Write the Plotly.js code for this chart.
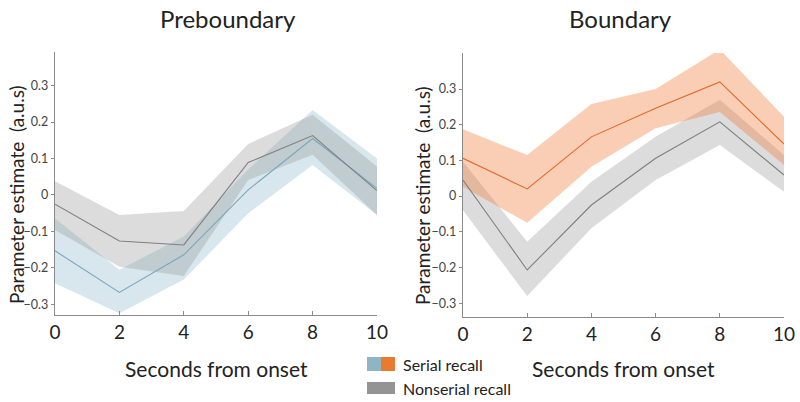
<!DOCTYPE html>
<html>
<head>
<meta charset="utf-8">
<script src="https://cdn.plot.ly/plotly-3.0.1.min.js"></script>
<style>html,body{margin:0;padding:0;background:#fff;}#chart{width:800px;height:402px;}</style>
</head>
<body>
<div id="chart"></div>
<script>
// ---- data ----
const seconds = [0, 2, 4, 6, 8, 10];
const yTicks = [-0.3, -0.2, -0.1, 0, 0.1, 0.2, 0.3];
const xTicks = [0, 2, 4, 6, 8, 10];

// Preboundary
const preSerial      = [-0.153, -0.267, -0.164, 0.014, 0.155, 0.018];
const preSerialUp    = [-0.064, -0.205, -0.114, 0.070, 0.233, 0.100];
const preSerialLo    = [-0.242, -0.324, -0.232, -0.050, 0.082, -0.055];
const preNonserial   = [-0.025, -0.126, -0.137, 0.089, 0.163, 0.012];
const preNonserialUp = [0.038, -0.055, -0.044, 0.140, 0.220, 0.078];
const preNonserialLo = [-0.096, -0.197, -0.222, 0.041, 0.110, -0.055];

// Boundary
const bndSerial      = [0.106, 0.020, 0.166, 0.246, 0.320, 0.146];
const bndSerialUp    = [0.187, 0.115, 0.258, 0.300, 0.411, 0.222];
const bndSerialLo    = [0.026, -0.075, 0.082, 0.190, 0.236, 0.087];
const bndNonserial   = [0.045, -0.207, -0.025, 0.106, 0.208, 0.059];
const bndNonserialUp = [0.096, -0.128, 0.040, 0.166, 0.270, 0.115];
const bndNonserialLo = [-0.040, -0.280, -0.090, 0.045, 0.143, 0.012];

// ---- styles ----
const blueLine = '#7aa7ba', blueFill = 'rgba(110,170,190,0.28)';
const grayLine = '#7f7f7f', grayFill = 'rgba(150,150,150,0.33)';
const orangeLine = '#e2692a', orangeFill = 'rgba(238,125,60,0.38)';
const FONT = 'Lato, "Open Sans", sans-serif';

function band(xa, ya, up, lo, fill) {
  return [
    {x: seconds, y: up, xaxis: xa, yaxis: ya, mode: 'lines', line: {width: 0, color: fill}, hoverinfo: 'skip', showlegend: false},
    {x: seconds, y: lo, xaxis: xa, yaxis: ya, mode: 'lines', line: {width: 0, color: fill}, fill: 'tonexty', fillcolor: fill, hoverinfo: 'skip', showlegend: false}
  ];
}
function line(xa, ya, y, color) {
  return {x: seconds, y: y, xaxis: xa, yaxis: ya, mode: 'lines', line: {width: 1.1, color: color}, showlegend: false};
}

const data = [
  ...band('x', 'y', preSerialUp, preSerialLo, blueFill),
  ...band('x', 'y', preNonserialUp, preNonserialLo, grayFill),
  line('x', 'y', preSerial, blueLine),
  line('x', 'y', preNonserial, grayLine),
  ...band('x2', 'y2', bndNonserialUp, bndNonserialLo, grayFill),
  ...band('x2', 'y2', bndSerialUp, bndSerialLo, orangeFill),
  line('x2', 'y2', bndNonserial, grayLine),
  line('x2', 'y2', bndSerial, orangeLine)
];

const xBase = {
  range: [0, 10], tickvals: xTicks, ticks: 'inside', ticklen: 4, tickcolor: '#8a8a8a',
  showline: true, linecolor: '#8a8a8a', linewidth: 1.3, showgrid: false, zeroline: false,
  tickfont: {family: FONT, size: 19, color: '#222'}, fixedrange: true
};
const yBase = {
  tickvals: yTicks, ticks: 'outside', ticklen: 3, tickcolor: '#8a8a8a',
  showline: true, linecolor: '#8a8a8a', linewidth: 1.3, showgrid: false, zeroline: false,
  tickfont: {family: FONT, size: 12.5, color: '#444'}, fixedrange: true
};

function ann(text, px, py, size, extra) {
  return Object.assign({text: text, xref: 'paper', yref: 'paper', x: px / 800, y: 1 - py / 402,
    xanchor: 'center', yanchor: 'middle', showarrow: false, font: {family: FONT, size: size, color: '#222'}}, extra || {});
}

const layout = {
  width: 800, height: 402,
  margin: {l: 0, r: 0, t: 0, b: 0},
  paper_bgcolor: '#fff', plot_bgcolor: 'rgba(0,0,0,0)',
  showlegend: false,
  xaxis: Object.assign({}, xBase, {domain: [55/800, 377/800], anchor: 'y'}),
  yaxis: Object.assign({}, yBase, {domain: [1 - 315/402, 1 - 52/402], range: [-0.329, 0.392], anchor: 'x'}),
  xaxis2: Object.assign({}, xBase, {domain: [463/800, 784/800], anchor: 'y2'}),
  yaxis2: Object.assign({}, yBase, {domain: [1 - 316.7/402, 1 - 53/402], range: [-0.338, 0.401], anchor: 'x2'}),
  annotations: [
    ann('Preboundary', 228, 19, 24),
    ann('Boundary', 620, 19, 24),
    ann('Parameter estimate  (a.u.s)', 17, 195, 19, {textangle: -90}),
    ann('Parameter estimate  (a.u.s)', 422, 196, 19, {textangle: -90}),
    ann('Seconds from onset', 216, 368, 21),
    ann('Seconds from onset', 623, 368, 21),
    ann('Serial recall', 401, 364, 16, {xanchor: 'left'}),
    ann('Nonserial recall', 401, 388, 16, {xanchor: 'left'})
  ],
  shapes: [
    {type: 'rect', xref: 'paper', yref: 'paper', x0: 367/800, x1: 381/800, y0: 1 - 371/402, y1: 1 - 357/402, fillcolor: '#8db5c4', line: {width: 0}},
    {type: 'rect', xref: 'paper', yref: 'paper', x0: 381/800, x1: 395/800, y0: 1 - 371/402, y1: 1 - 357/402, fillcolor: '#ea7a2e', line: {width: 0}},
    {type: 'rect', xref: 'paper', yref: 'paper', x0: 367/800, x1: 395/800, y0: 1 - 394/402, y1: 1 - 382/402, fillcolor: '#949494', line: {width: 0}}
  ]
};

Plotly.newPlot('chart', data, layout, {displayModeBar: false, staticPlot: true});
</script>
</body>
</html>
